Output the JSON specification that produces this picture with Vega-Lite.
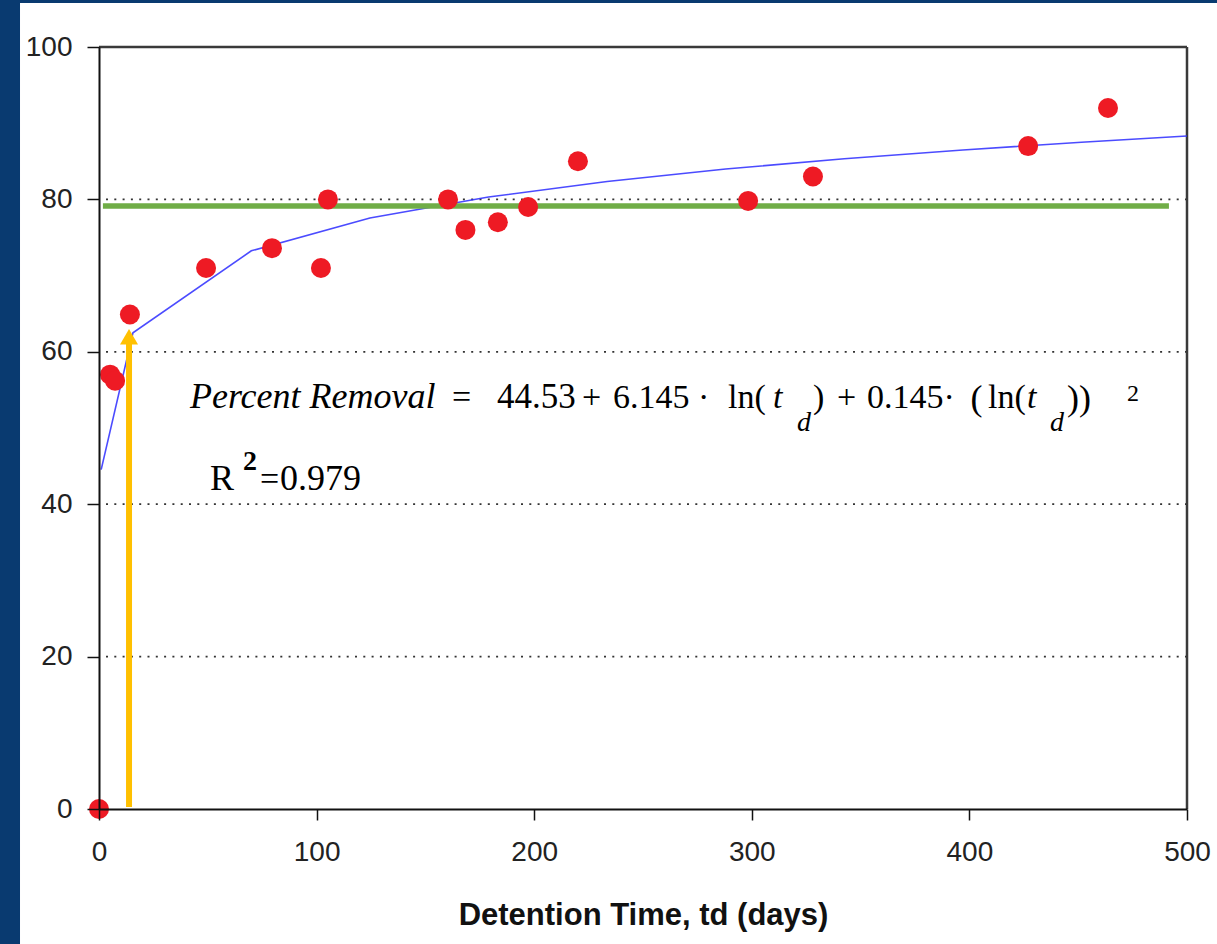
{
  "$schema": "https://vega.github.io/schema/vega-lite/v6.json",
  "width": 1088,
  "height": 762,
  "autosize": {"type": "none"},
  "padding": {"left": 99, "top": 47, "right": 30, "bottom": 135},
  "background": "#093a70",
  "datasets": {
    "points": [
      {"t": 0, "removal": 0},
      {"t": 5.1, "removal": 57.0},
      {"t": 7.4, "removal": 56.2},
      {"t": 14.2, "removal": 64.9},
      {"t": 49.2, "removal": 71.0},
      {"t": 79.5, "removal": 73.6},
      {"t": 102.0, "removal": 71.0},
      {"t": 105.2, "removal": 80.0},
      {"t": 160.4, "removal": 80.0},
      {"t": 168.4, "removal": 76.0},
      {"t": 183.3, "removal": 77.0},
      {"t": 197.2, "removal": 79.0},
      {"t": 220.1, "removal": 85.0},
      {"t": 298.3, "removal": 79.8},
      {"t": 328.1, "removal": 83.0},
      {"t": 427.0, "removal": 87.0},
      {"t": 463.7, "removal": 92.0}
    ],
    "fit": [
      {"t": 1, "fit": 44.53},
      {"t": 15.6, "fit": 62.50},
      {"t": 70, "fit": 73.25},
      {"t": 124.5, "fit": 77.55},
      {"t": 179, "fit": 80.31},
      {"t": 233.5, "fit": 82.35},
      {"t": 288, "fit": 83.98},
      {"t": 342.5, "fit": 85.33},
      {"t": 397, "fit": 86.49},
      {"t": 451.5, "fit": 87.51},
      {"t": 500, "fit": 88.32}
    ],
    "grid": [{"g": 20}, {"g": 40}, {"g": 60}, {"g": 80}]
  },
  "data": {"values": [{}]},
  "layer": [
    {
      "mark": {"type": "rect", "fill": "white", "clip": false},
      "encoding": {
        "x": {"datum": -36.3, "type": "quantitative", "scale": {"domain": [0, 500], "nice": false}},
        "x2": {"datum": 540},
        "y": {"datum": 105.77, "type": "quantitative", "scale": {"domain": [0, 100], "nice": false}},
        "y2": {"datum": -25}
      }
    },
    {
      "data": {"name": "grid"},
      "mark": {"type": "rule", "color": "#333333", "strokeWidth": 1.8, "strokeDash": [2, 6.3]},
      "encoding": {"y": {"field": "g", "type": "quantitative"}}
    },
    {
      "mark": {"type": "rule", "color": "#3a3a3a", "strokeWidth": 2.5},
      "encoding": {"y": {"datum": 100, "type": "quantitative"}}
    },
    {
      "mark": {"type": "rule", "color": "#3a3a3a", "strokeWidth": 2.5},
      "encoding": {"x": {"datum": 500, "type": "quantitative"}}
    },
    {
      "data": {"name": "fit"},
      "mark": {"type": "line", "color": "#2b2bff", "strokeWidth": 1.6, "opacity": 0.85},
      "encoding": {
        "x": {"field": "t", "type": "quantitative"},
        "y": {"field": "fit", "type": "quantitative"}
      }
    },
    {
      "mark": {"type": "rule", "color": "#70ad47", "strokeWidth": 5.5},
      "encoding": {
        "x": {"datum": 1.8, "type": "quantitative"},
        "x2": {"datum": 491.7},
        "y": {"datum": 79.13, "type": "quantitative"}
      }
    },
    {
      "mark": {"type": "rule", "color": "#ffc000", "strokeWidth": 6},
      "encoding": {
        "x": {"datum": 13.8, "type": "quantitative"},
        "y": {"datum": 0.25, "type": "quantitative"},
        "y2": {"datum": 61.6}
      }
    },
    {
      "mark": {"type": "point", "shape": "triangle-up", "size": 324, "filled": true, "color": "#ffc000", "opacity": 1},
      "encoding": {
        "x": {"datum": 13.8, "type": "quantitative"},
        "y": {"datum": 61.97, "type": "quantitative"}
      }
    },
    {
      "data": {"name": "points"},
      "mark": {"type": "point", "shape": "circle", "size": 400, "filled": true, "color": "#ee1a24", "opacity": 1},
      "encoding": {
        "x": {"field": "t", "type": "quantitative", "axis": {"values": [0, 100, 200, 300, 400, 500], "title": "Detention Time, td (days)", "zindex": 1, "grid": false}},
        "y": {"field": "removal", "type": "quantitative", "axis": {"values": [0, 20, 40, 60, 80, 100], "title": null, "zindex": 1, "grid": false}}
      }
    },
    {"mark": {"type": "text", "text": "Percent Removal", "font": "Liberation Serif", "fontStyle": "italic", "fontSize": 36, "align": "left", "baseline": "alphabetic", "color": "black"},
     "encoding": {"x": {"datum": 41.8, "type": "quantitative"}, "y": {"datum": 52.62, "type": "quantitative"}}},
    {"mark": {"type": "text", "text": "=", "font": "Liberation Serif", "fontSize": 34, "align": "left", "baseline": "alphabetic", "color": "black"},
     "encoding": {"x": {"datum": 162.2, "type": "quantitative"}, "y": {"datum": 52.62, "type": "quantitative"}}},
    {"mark": {"type": "text", "text": "44.53", "font": "Liberation Serif", "fontSize": 35, "align": "left", "baseline": "alphabetic", "color": "black"},
     "encoding": {"x": {"datum": 182.9, "type": "quantitative"}, "y": {"datum": 52.62, "type": "quantitative"}}},
    {"mark": {"type": "text", "text": "+", "font": "Liberation Serif", "fontSize": 34, "align": "left", "baseline": "alphabetic", "color": "black"},
     "encoding": {"x": {"datum": 222.0, "type": "quantitative"}, "y": {"datum": 52.62, "type": "quantitative"}}},
    {"mark": {"type": "text", "text": "6.145 ·", "font": "Liberation Serif", "fontSize": 34, "align": "left", "baseline": "alphabetic", "color": "black"},
     "encoding": {"x": {"datum": 236.2, "type": "quantitative"}, "y": {"datum": 52.62, "type": "quantitative"}}},
    {"mark": {"type": "text", "text": "ln(", "font": "Liberation Serif", "fontSize": 34, "align": "left", "baseline": "alphabetic", "color": "black"},
     "encoding": {"x": {"datum": 289.1, "type": "quantitative"}, "y": {"datum": 52.62, "type": "quantitative"}}},
    {"mark": {"type": "text", "text": "t", "font": "Liberation Serif", "fontStyle": "italic", "fontSize": 34, "align": "left", "baseline": "alphabetic", "color": "black"},
     "encoding": {"x": {"datum": 309.7, "type": "quantitative"}, "y": {"datum": 52.62, "type": "quantitative"}}},
    {"mark": {"type": "text", "text": "d", "font": "Liberation Serif", "fontStyle": "italic", "fontSize": 28, "align": "left", "baseline": "alphabetic", "color": "black"},
     "encoding": {"x": {"datum": 320.8, "type": "quantitative"}, "y": {"datum": 49.6, "type": "quantitative"}}},
    {"mark": {"type": "text", "text": ")", "font": "Liberation Serif", "fontSize": 34, "align": "left", "baseline": "alphabetic", "color": "black"},
     "encoding": {"x": {"datum": 328.1, "type": "quantitative"}, "y": {"datum": 52.62, "type": "quantitative"}}},
    {"mark": {"type": "text", "text": "+", "font": "Liberation Serif", "fontSize": 34, "align": "left", "baseline": "alphabetic", "color": "black"},
     "encoding": {"x": {"datum": 339.2, "type": "quantitative"}, "y": {"datum": 52.62, "type": "quantitative"}}},
    {"mark": {"type": "text", "text": "0.145·", "font": "Liberation Serif", "fontSize": 34, "align": "left", "baseline": "alphabetic", "color": "black"},
     "encoding": {"x": {"datum": 352.9, "type": "quantitative"}, "y": {"datum": 52.62, "type": "quantitative"}}},
    {"mark": {"type": "text", "text": "(", "font": "Liberation Serif", "fontSize": 36, "align": "left", "baseline": "alphabetic", "color": "black"},
     "encoding": {"x": {"datum": 400.5, "type": "quantitative"}, "y": {"datum": 52.4, "type": "quantitative"}}},
    {"mark": {"type": "text", "text": "ln(", "font": "Liberation Serif", "fontSize": 34, "align": "left", "baseline": "alphabetic", "color": "black"},
     "encoding": {"x": {"datum": 408.6, "type": "quantitative"}, "y": {"datum": 52.62, "type": "quantitative"}}},
    {"mark": {"type": "text", "text": "t", "font": "Liberation Serif", "fontStyle": "italic", "fontSize": 34, "align": "left", "baseline": "alphabetic", "color": "black"},
     "encoding": {"x": {"datum": 426.5, "type": "quantitative"}, "y": {"datum": 52.62, "type": "quantitative"}}},
    {"mark": {"type": "text", "text": "d", "font": "Liberation Serif", "fontStyle": "italic", "fontSize": 28, "align": "left", "baseline": "alphabetic", "color": "black"},
     "encoding": {"x": {"datum": 437.0, "type": "quantitative"}, "y": {"datum": 49.6, "type": "quantitative"}}},
    {"mark": {"type": "text", "text": "))", "font": "Liberation Serif", "fontSize": 36, "align": "left", "baseline": "alphabetic", "color": "black"},
     "encoding": {"x": {"datum": 444.9, "type": "quantitative"}, "y": {"datum": 52.4, "type": "quantitative"}}},
    {"mark": {"type": "text", "text": "2", "font": "Liberation Serif", "fontSize": 24, "align": "left", "baseline": "alphabetic", "color": "black"},
     "encoding": {"x": {"datum": 472.4, "type": "quantitative"}, "y": {"datum": 53.5, "type": "quantitative"}}},
    {"mark": {"type": "text", "text": "R", "font": "Liberation Serif", "fontSize": 36, "align": "left", "baseline": "alphabetic", "color": "black"},
     "encoding": {"x": {"datum": 51.0, "type": "quantitative"}, "y": {"datum": 41.86, "type": "quantitative"}}},
    {"mark": {"type": "text", "text": "2", "font": "Liberation Serif", "fontSize": 28, "fontWeight": "bold", "align": "left", "baseline": "alphabetic", "color": "black"},
     "encoding": {"x": {"datum": 66.2, "type": "quantitative"}, "y": {"datum": 44.49, "type": "quantitative"}}},
    {"mark": {"type": "text", "text": "=", "font": "Liberation Serif", "fontSize": 34, "align": "left", "baseline": "alphabetic", "color": "black"},
     "encoding": {"x": {"datum": 74.0, "type": "quantitative"}, "y": {"datum": 41.86, "type": "quantitative"}}},
    {"mark": {"type": "text", "text": "0.979", "font": "Liberation Serif", "fontSize": 36, "align": "left", "baseline": "alphabetic", "color": "black"},
     "encoding": {"x": {"datum": 83.2, "type": "quantitative"}, "y": {"datum": 41.86, "type": "quantitative"}}}
  ],
  "config": {
    "view": {"stroke": null},
    "axis": {
      "domainColor": "#111111",
      "domainWidth": 2,
      "tickColor": "#111111",
      "tickWidth": 1.5,
      "labelFont": "Liberation Sans",
      "labelFontSize": 28,
      "labelColor": "#222222",
      "labelFlush": false,
      "grid": false,
      "titleFont": "Liberation Sans",
      "titleFontSize": 31,
      "titleFontWeight": "bold",
      "titleColor": "#111111"
    },
    "axisX": {"tickSize": 11, "labelPadding": 18, "titlePadding": 34},
    "axisY": {"tickSize": 12, "labelPadding": 15}
  }
}
